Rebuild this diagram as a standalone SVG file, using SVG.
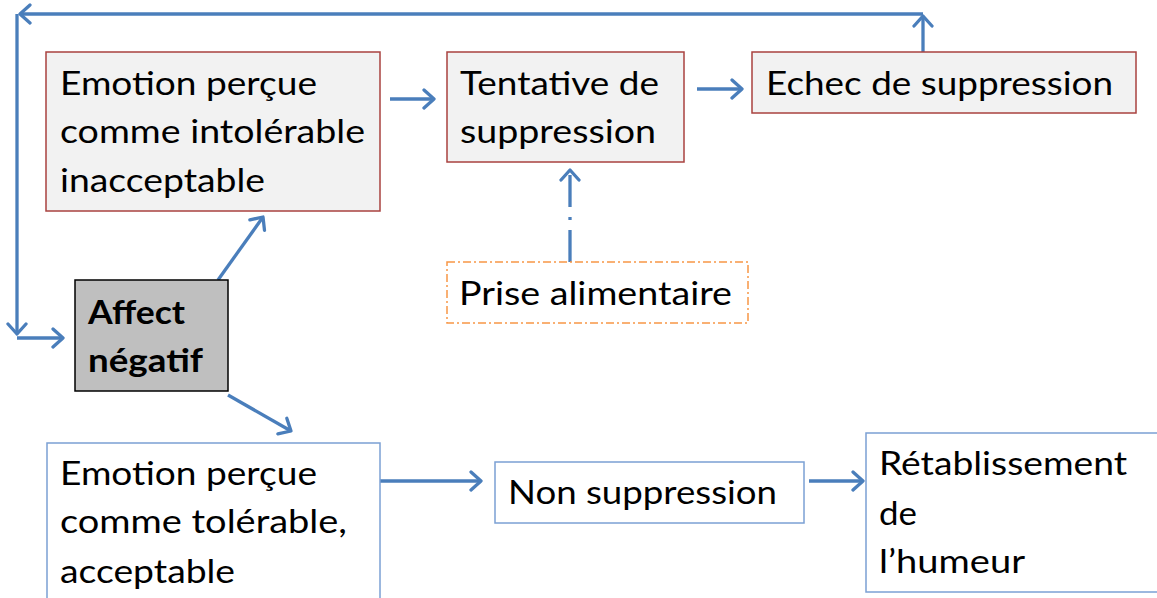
<svg xmlns="http://www.w3.org/2000/svg" width="1157" height="598" viewBox="0 0 1157 598">
<style>
.t{font-family:Lato,"Open Sans","Liberation Sans",sans-serif;font-size:32px;fill:#000}
.b{font-weight:bold}
.red{fill:#f2f2f2;stroke:#a9423f;stroke-width:1.5}
.blue{fill:#fff;stroke:#7ba0d4;stroke-width:1.5}
.c{fill:none;stroke:#4a7ebb;stroke-width:3.3}
</style>
<defs>
<marker id="ah" markerUnits="userSpaceOnUse" markerWidth="22" markerHeight="22" viewBox="0 0 22 22" refX="13" refY="11" orient="auto">
<path d="M3,2 L13,11 L3,20" fill="none" stroke="#4a7ebb" stroke-width="3.3" stroke-linecap="round" stroke-linejoin="round"/>
</marker>
</defs>
<g id="connectors">
<path class="c" d="M923,52 L923,16" marker-end="url(#ah)"/>
<path class="c" d="M923,14 L20,14" marker-end="url(#ah)"/>
<path class="c" d="M17,14 L17,334" marker-end="url(#ah)"/>
<path class="c" d="M17,338 L63,338" marker-end="url(#ah)"/>
<path class="c" d="M390,99 L434,99" marker-end="url(#ah)"/>
<path class="c" d="M697,89 L742,89" marker-end="url(#ah)"/>
<path class="c" d="M218,280 L263,217" marker-end="url(#ah)"/>
<path class="c" d="M228,395 L291,431" marker-end="url(#ah)"/>
<path class="c" d="M380,481 L481,481" marker-end="url(#ah)"/>
<path class="c" d="M809,481 L863,481" marker-end="url(#ah)"/>
<path class="c" d="M570,262 L570,170" stroke-dasharray="32 10 3 10" marker-end="url(#ah)"/>
</g>
<g id="n-intolerable">
<rect class="red" x="46" y="52" width="334" height="159"/>
<text class="t" x="60" y="95" textLength="257" lengthAdjust="spacingAndGlyphs">Emotion perçue</text>
<text class="t" x="60" y="143" textLength="305" lengthAdjust="spacingAndGlyphs">comme intolérable</text>
<text class="t" x="60" y="192" textLength="205" lengthAdjust="spacingAndGlyphs">inacceptable</text>
</g>
<g id="n-tentative">
<rect class="red" x="447" y="52" width="237" height="110"/>
<text class="t" x="460" y="95" textLength="199" lengthAdjust="spacingAndGlyphs">Tentative de</text>
<text class="t" x="460" y="143" textLength="196" lengthAdjust="spacingAndGlyphs">suppression</text>
</g>
<g id="n-echec">
<rect class="red" x="752" y="52" width="384" height="61"/>
<text class="t" x="766" y="95" textLength="347" lengthAdjust="spacingAndGlyphs">Echec de suppression</text>
</g>
<g id="n-prise">
<rect x="447" y="262" width="301" height="61" fill="#fff" stroke="#f79646" stroke-width="1.5" stroke-dasharray="8 3 2 3"/>
<text class="t" x="459" y="305" textLength="273" lengthAdjust="spacingAndGlyphs">Prise alimentaire</text>
</g>
<g id="n-affect">
<rect x="75" y="280" width="153" height="111" fill="#bfbfbf" stroke="#000" stroke-width="1.5"/>
<text class="t b" x="88" y="324" textLength="97" lengthAdjust="spacingAndGlyphs">Affect</text>
<text class="t b" x="88" y="372" textLength="115" lengthAdjust="spacingAndGlyphs">négatif</text>
</g>
<g id="n-tolerable">
<rect class="blue" x="47" y="443" width="333" height="170"/>
<text class="t" x="60" y="485" textLength="257" lengthAdjust="spacingAndGlyphs">Emotion perçue</text>
<text class="t" x="60" y="533" textLength="287" lengthAdjust="spacingAndGlyphs">comme tolérable,</text>
<text class="t" x="60" y="583" textLength="175" lengthAdjust="spacingAndGlyphs">acceptable</text>
</g>
<g id="n-non">
<rect class="blue" x="495" y="462" width="309" height="61"/>
<text class="t" x="508" y="504" textLength="269" lengthAdjust="spacingAndGlyphs">Non suppression</text>
</g>
<g id="n-retablissement">
<rect class="blue" x="866" y="433" width="300" height="159"/>
<text class="t" x="879" y="475" textLength="248" lengthAdjust="spacingAndGlyphs">Rétablissement</text>
<text class="t" x="879" y="525" textLength="38" lengthAdjust="spacingAndGlyphs">de</text>
<text class="t" x="879" y="573" textLength="146" lengthAdjust="spacingAndGlyphs">l’humeur</text>
</g>
</svg>
